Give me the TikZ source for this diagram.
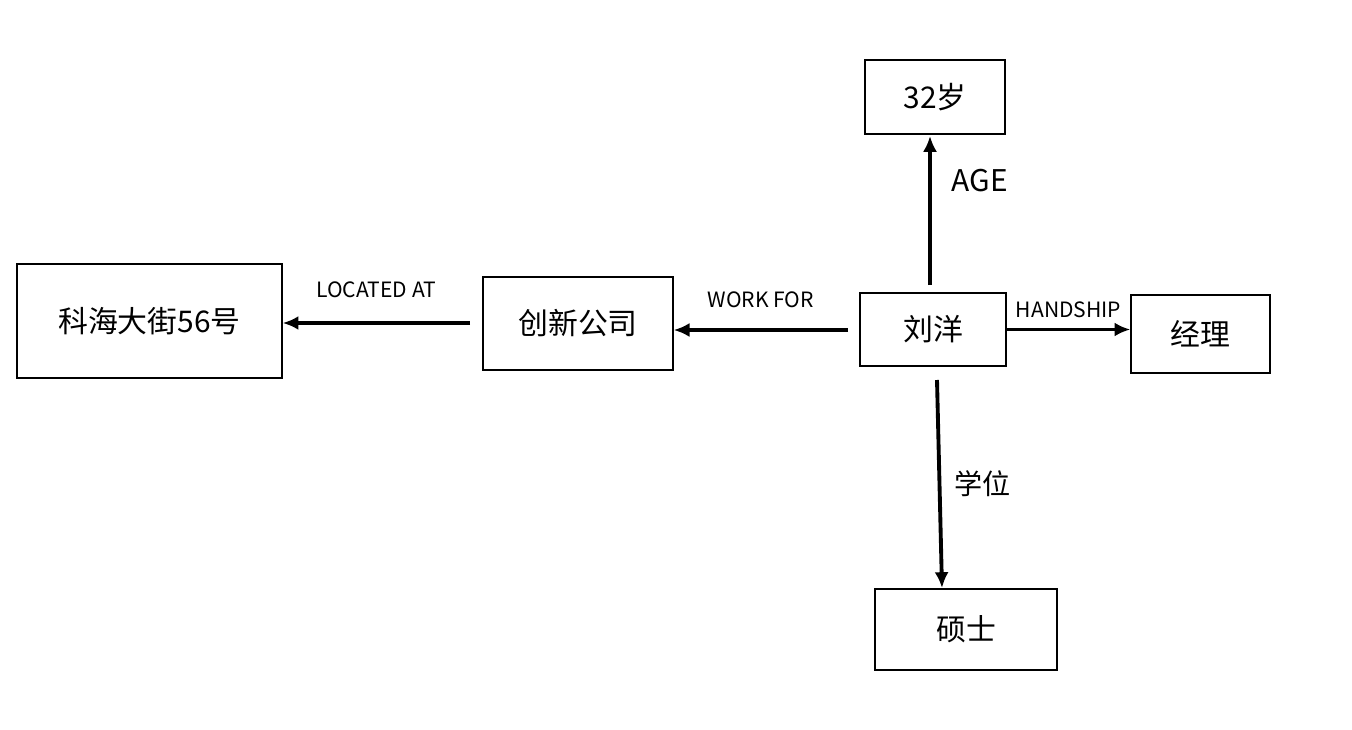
\documentclass[tikz,border=0pt]{standalone}
\usepackage{fontspec}
\setmainfont{Noto Sans CJK SC}
\usetikzlibrary{arrows.meta}
\tikzset{
  entity/.style={draw, line width=0.8pt, inner sep=0pt, font=\fontsize{17}{19}\selectfont},
  rel/.style={-{Latex[length=9pt,width=8pt]}, line width=2.2pt},
  lab/.style={font=\fontsize{12}{14}\selectfont}
}
\begin{document}
\begin{tikzpicture}[x=0.02cm, y=-0.02cm]
  \useasboundingbox (0,0) rectangle (1352,730);
  % entities
  \node[entity, minimum width=2.8cm, minimum height=1.48cm] (age) at (935,97) {32岁};
  \node[entity, minimum width=5.3cm, minimum height=2.28cm] (addr) at (149.5,321) {科海大街56号};
  \node[entity, minimum width=3.8cm, minimum height=1.86cm] (corp) at (578,323.5) {创新公司};
  \node[entity, minimum width=2.92cm, minimum height=1.46cm] (liu) at (933,329.5) {刘洋};
  \node[entity, minimum width=2.78cm, minimum height=1.56cm] (job) at (1200.5,334) {经理};
  \node[entity, minimum width=3.64cm, minimum height=1.62cm] (deg) at (966,629.5) {硕士};
  % free ends
  \coordinate (a1) at (930,285);
  \coordinate (a2) at (930,136);
  \coordinate (w1) at (848,330);
  \coordinate (l1) at (470,323);
  \coordinate (d1) at (937,380);
  \coordinate (d2) at (942,588);
  % relations
  \draw[rel] (a1) -- (a2) node[pos=0.7, right=8pt, font=\fontsize{17}{19}\selectfont] {AGE};
  \draw[rel] (w1) -- (corp.east |- w1) node[pos=0.5, above=8pt, lab] {WORK FOR};
  \draw[rel] (l1) -- (addr.east |- l1) node[pos=0.5, above=10pt, lab] {LOCATED AT};
  \draw[rel] (liu.east) -- (job.west |- liu.east) node[pos=0.5, above=2pt, lab] {HANDSHIP};
  \draw[rel] (d1) -- (d2) node[pos=0.5, right=4pt, font=\fontsize{16}{18}\selectfont] {学位};
\end{tikzpicture}
\end{document}
